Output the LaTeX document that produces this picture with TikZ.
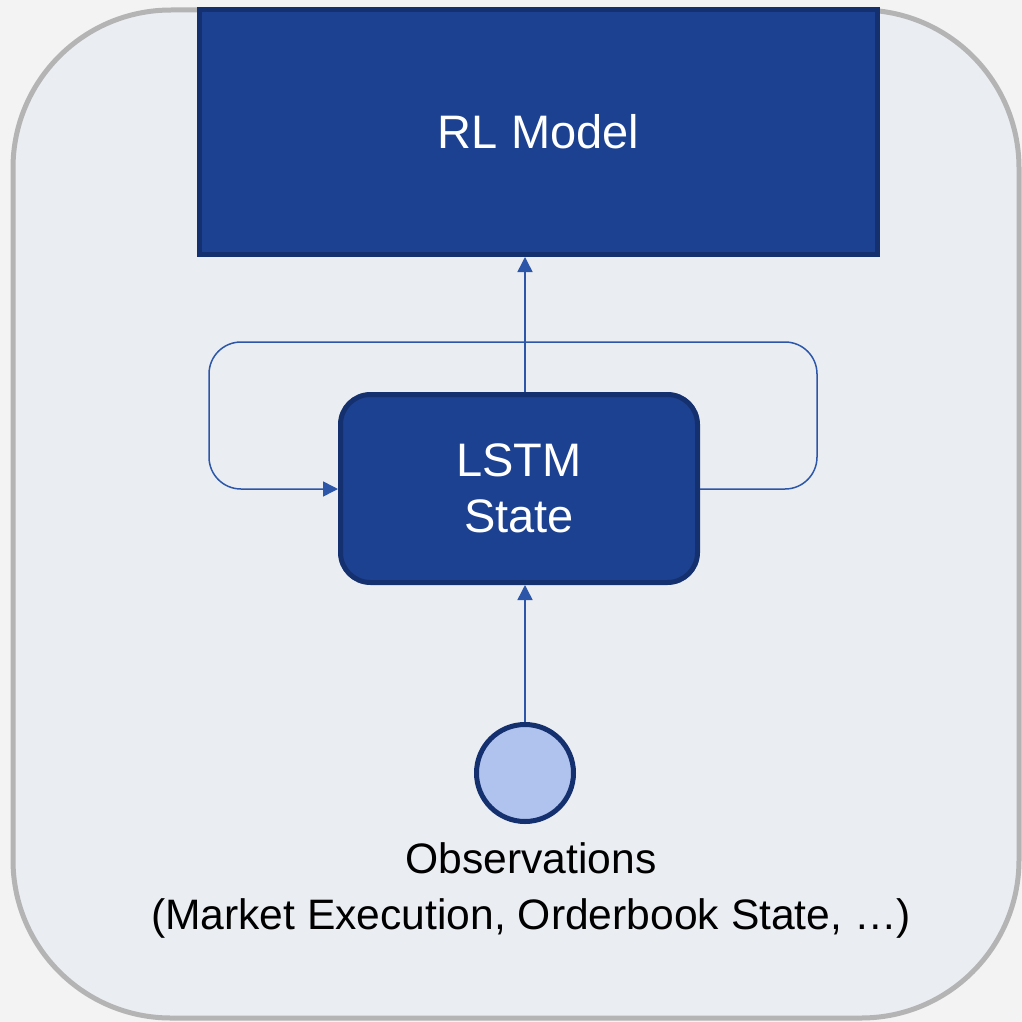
\documentclass[tikz,border=0pt]{standalone}
\usepackage{fontspec}
\setmainfont{Liberation Sans}
\usetikzlibrary{arrows.meta}
\definecolor{pagebg}{HTML}{F3F3F3}
\definecolor{panelfill}{HTML}{EAEDF2}
\definecolor{panelline}{HTML}{B4B4B4}
\definecolor{boxfill}{HTML}{1D4191}
\definecolor{boxline}{HTML}{15306E}
\definecolor{connline}{HTML}{2C56A8}
\definecolor{circfill}{HTML}{B0C3EE}
\tikzset{
  panel/.style={draw=panelline, fill=panelfill, line width=5pt, rounded corners=158pt},
  rlbox/.style={draw=boxline, fill=boxfill, line width=5pt, minimum width=678pt, minimum height=245pt, inner sep=0pt, text=white, font=\fontsize{47}{56}\selectfont},
  lstmbox/.style={draw=boxline, fill=boxfill, line width=5pt, rounded corners=30pt, minimum width=357pt, minimum height=188pt, inner sep=0pt, text=white, align=center, font=\fontsize{47}{56}\selectfont},
  obscirc/.style={circle, draw=boxline, fill=circfill, line width=5pt, minimum size=97pt, inner sep=0pt},
  conn/.style={draw=connline, line width=1.5pt, -{Triangle[length=15pt,width=15pt]}},
  label/.style={text=black, align=center, font=\fontsize{42.6}{56}\selectfont}
}
\begin{document}
\begin{tikzpicture}[x=1pt,y=-1pt]
\useasboundingbox (0,0) rectangle (1022,1022);
\fill[pagebg] (0,0) rectangle (1022,1022);
\draw[panel] (13,10) rectangle (1019,1018);
\node[rlbox] (rl) at (538.5,132) {RL Model};
\node[lstmbox] (lstm) at (519,488.5) {LSTM\\State};
\node[obscirc] (obs) at (525,773) {};
\node[label] (obstext) at (531,890) {Observations\\(Market Execution, Orderbook State, …)};
\coordinate (loopR) at (817,489);
\coordinate (loopTR) at (817,342);
\coordinate (loopTL) at (209,342);
\coordinate (loopL) at (209,489);
\draw[conn, rounded corners=32pt] (lstm.east |- loopR) -- (loopR) -- (loopTR) -- (loopTL) -- (loopL) -- (lstm.west |- loopL);
\draw[conn] (lstm.north -| obs.north) -- (rl.south -| obs.north);
\draw[conn] (obs.north) -- (lstm.south -| obs.north);
\end{tikzpicture}
\end{document}
